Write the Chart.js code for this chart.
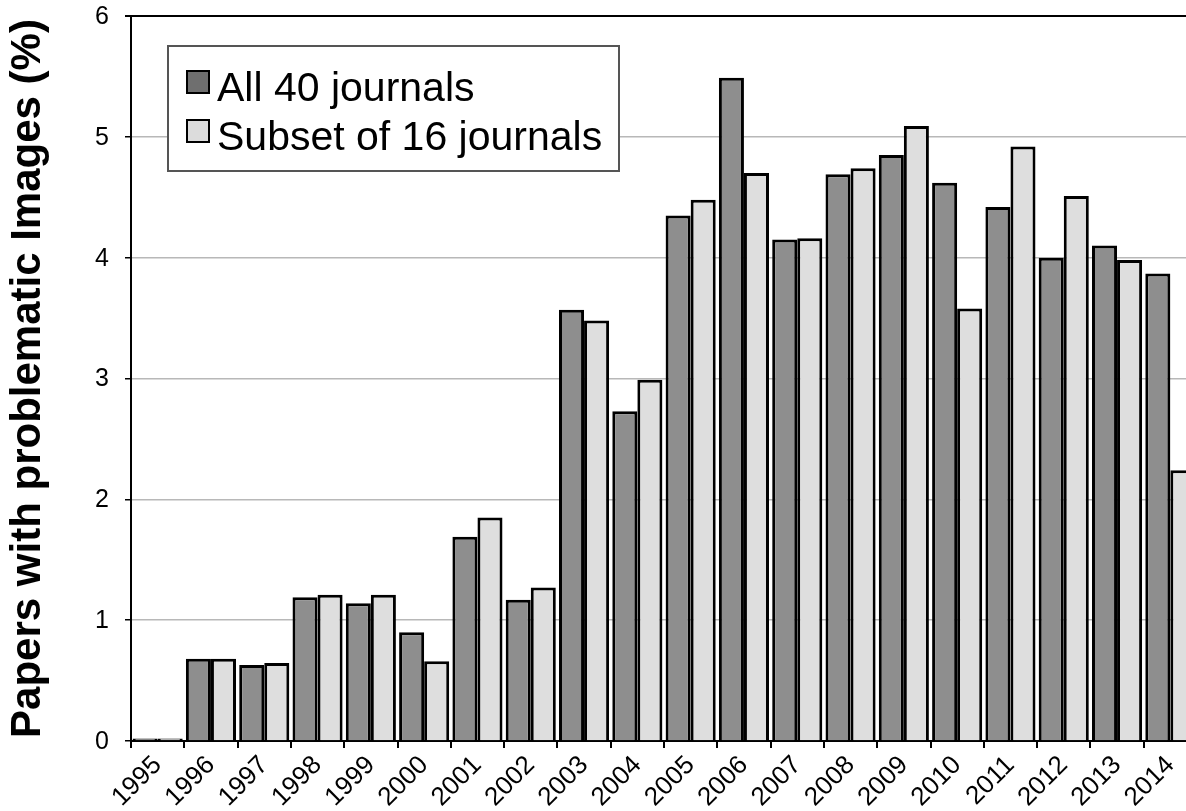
<!DOCTYPE html>
<html>
<head>
<meta charset="utf-8">
<title>Papers with problematic images</title>
<script src="https://cdn.jsdelivr.net/npm/chart.js@4"></script>
<style>
  html, body { margin: 0; padding: 0; background: #fff; overflow: hidden; }
  canvas { display: block; }
</style>
</head>
<body>
<canvas id="chart" width="1200" height="811"></canvas>
<script>
// Share of papers with problematic images per year

const years = ['1995', '1996', '1997', '1998', '1999', '2000', '2001', '2002', '2003', '2004',
               '2005', '2006', '2007', '2008', '2009', '2010', '2011', '2012', '2013', '2014'];

const allJournals = [0.02, 0.68, 0.63, 1.19, 1.14, 0.90, 1.69, 1.17, 3.57, 2.73,
                     4.35, 5.49, 4.15, 4.69, 4.85, 4.62, 4.42, 4.00, 4.10, 3.87];

const subsetJournals = [0.02, 0.68, 0.645, 1.21, 1.21, 0.66, 1.85, 1.27, 3.48, 2.99,
                        4.48, 4.70, 4.16, 4.74, 5.09, 3.58, 4.92, 4.51, 3.98, 2.24];

const seriesLabels = ['All 40 journals', 'Subset of 16 journals'];
const yTicks = [0, 1, 2, 3, 4, 5, 6];

const FONT = 'Arial, "Liberation Sans", sans-serif';
Chart.defaults.font.family = FONT;
Chart.defaults.color = '#000';

// y tick labels, placed through the y scale
const yLabels = {
  id: 'yLabels',
  afterDraw(chart) {
    const ctx = chart.ctx;
    const y = chart.scales.y;
    ctx.save();
    ctx.font = '25px ' + FONT;
    ctx.fillStyle = '#000';
    ctx.textAlign = 'right';
    ctx.textBaseline = 'middle';
    yTicks.forEach(v => ctx.fillText(String(v), y.right - 22, y.getPixelForValue(v) + 1));
    ctx.restore();
  }
};

// legend drawn as a framed box inside the plot, like the original figure
const boxLegend = {
  id: 'boxLegend',
  afterDraw(chart) {
    const ctx = chart.ctx;
    const swatch = ['#6f6f6f', '#dcdcdc'];
    ctx.save();
    ctx.fillStyle = '#fff';
    ctx.fillRect(168, 46, 451, 125);
    ctx.strokeStyle = '#555';
    ctx.lineWidth = 2;
    ctx.strokeRect(168, 46, 451, 125);

    ctx.font = '41px ' + FONT;
    ctx.textBaseline = 'alphabetic';
    chart.data.datasets.forEach((ds, i) => {
      const y = 71 + i * 49;
      ctx.fillStyle = swatch[i];
      ctx.fillRect(187, y, 22, 22);
      ctx.strokeStyle = '#000';
      ctx.lineWidth = 2;
      ctx.strokeRect(187, y, 22, 22);
      ctx.fillStyle = '#000';
      ctx.fillText(ds.label, 217, y + 30);
    });
    ctx.restore();
  }
};

new Chart(document.getElementById('chart'), {
  type: 'bar',
  data: {
    labels: years,
    datasets: [
      {
        label: seriesLabels[0],
        data: allJournals,
        backgroundColor: '#8e8e8e',
        borderColor: '#000',
        borderWidth: 3
      },
      {
        label: seriesLabels[1],
        data: subsetJournals,
        backgroundColor: '#dedede',
        borderColor: '#000',
        borderWidth: 3
      }
    ]
  },
  options: {
    responsive: false,
    animation: false,
    layout: { padding: { top: 16, right: 3, bottom: 0, left: 0 } },
    datasets: { bar: { categoryPercentage: 0.94, barPercentage: 1.0 } },
    plugins: {
      legend: { display: false },
      tooltip: { enabled: false }
    },
    scales: {
      x: {
        offset: true,
        grid: {
          offset: true,
          drawOnChartArea: false,
          tickLength: 7,
          tickColor: '#000',
          lineWidth: 2
        },
        border: { color: '#000', width: 2 },
        ticks: {
          autoSkip: false,
          minRotation: 45,
          maxRotation: 45,
          padding: 2,
          color: '#000',
          font: { size: 26 }
        },
        afterFit(scale) { scale.height = 70; }
      },
      y: {
        min: 0,
        max: 6,
        afterBuildTicks(scale) { scale.ticks = yTicks.map(v => ({ value: v })); },
        grid: {
          color: (c) => c.tick && c.tick.value === 6 ? '#000' : '#b8b8b8',
          lineWidth: (c) => c.tick && c.tick.value === 6 ? 2 : 1.5,
          tickColor: '#000',
          tickLength: 6
        },
        border: { color: '#000', width: 2 },
        ticks: { display: false },
        title: {
          display: true,
          text: 'Papers with problematic Images (%)',
          color: '#000',
          font: { size: 42, weight: 'bold' },
          padding: { top: 3, bottom: 0 }
        },
        afterFit(scale) {
          scale.width = 131;
          scale.paddingTop = 0;
          scale.paddingBottom = 0;
        }
      }
    }
  },
  plugins: [boxLegend, yLabels]
});
</script>
</body>
</html>
